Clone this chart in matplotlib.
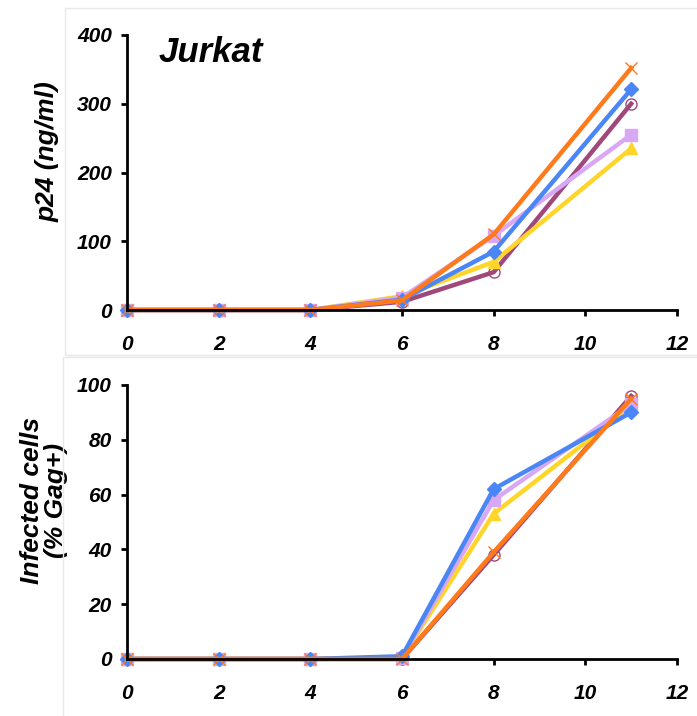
import matplotlib.pyplot as plt
from matplotlib.patches import Rectangle

days = [0, 2, 4, 6, 8, 11]

# p24 (ng/ml)
p24_purple = [0, 0, 0, 12, 55, 300]
p24_yellow = [0, 0, 0, 20, 70, 235]
p24_lavender = [0, 0, 0, 18, 108, 255]
p24_blue = [0, 0, 0, 15, 85, 321]
p24_orange = [0, 0, 0, 14, 110, 352]

# infected cells (% Gag+)
inf_purple = [0, 0, 0, 0, 38, 96]
inf_yellow = [0, 0, 0, 0.5, 53, 92]
inf_lavender = [0, 0, 0, 0.5, 58, 93]
inf_blue = [0, 0, 0, 1, 62, 90]
inf_orange = [0, 0, 0, 0, 39, 95]

x_ticks = [0, 2, 4, 6, 8, 10, 12]

plt.rcParams['font.family'] = ['Liberation Sans', 'DejaVu Sans']

styles = [
    ('#A0487A', 'o', 'none'),
    ('#FFD52A', '^', None),
    ('#D8A8F5', 's', None),
    ('#4A86F5', 'D', None),
    ('#FF7A1A', 'x', None),
]

fig = plt.figure(figsize=(6.97, 7.16), dpi=100)

# light panel frames
fig.patches.append(Rectangle((65 / 697, 1 - 355 / 716), 1, 347 / 716, transform=fig.transFigure,
                             fill=False, edgecolor='#e8e8e8', linewidth=1))
fig.patches.append(Rectangle((63 / 697, -0.05), 1, 0.05 + 359 / 716, transform=fig.transFigure,
                             fill=False, edgecolor='#e8e8e8', linewidth=1))

ax1 = fig.add_axes([127 / 697, 1 - 310 / 716, 550 / 697, 275 / 716])
ax2 = fig.add_axes([127 / 697, 1 - 659 / 716, 550 / 697, 274 / 716])


def draw(ax, series, ymax, ystep):
    for (color, marker, face), vals in zip(styles, series):
        mfc = color if face is None else 'none'
        ms = 7 if marker == 'D' else 8
        ax.plot(days, vals, color=color, linewidth=3.2, marker=marker, markersize=ms,
                markerfacecolor=mfc, markeredgecolor=color, markeredgewidth=1,
                clip_on=False)
    ax.set_xlim(0, 12)
    ax.set_ylim(0, ymax)
    ax.set_xticks(x_ticks)
    ax.set_yticks(range(0, ymax + 1, ystep))
    for s in ['top', 'right']:
        ax.spines[s].set_visible(False)
    for s in ['left', 'bottom']:
        ax.spines[s].set_linewidth(2)
    ax.tick_params(width=2, length=4, labelsize=15)
    ax.tick_params(axis='x', pad=14)
    ax.tick_params(axis='y', pad=7)
    for lab in ax.get_xticklabels() + ax.get_yticklabels():
        lab.set_fontweight('bold')
        lab.set_fontstyle('italic')


draw(ax1, [p24_purple, p24_yellow, p24_lavender, p24_blue, p24_orange], 400, 100)
draw(ax2, [inf_purple, inf_yellow, inf_lavender, inf_blue, inf_orange], 100, 20)

ax1.set_ylabel('p24 (ng/ml)', fontsize=19, fontweight='bold', fontstyle='italic')
ax1.yaxis.set_label_coords(-0.122, 0.575)
ax2.set_ylabel('Infected cells\n(% Gag+)', fontsize=19, fontweight='bold', fontstyle='italic',
               linespacing=1.0)
ax2.yaxis.set_label_coords(-0.107, 0.577)
ax1.text(0.68, 375, 'Jurkat', fontsize=25, fontweight='bold', fontstyle='italic', va='center')

fig.savefig('out.png', dpi=100)
